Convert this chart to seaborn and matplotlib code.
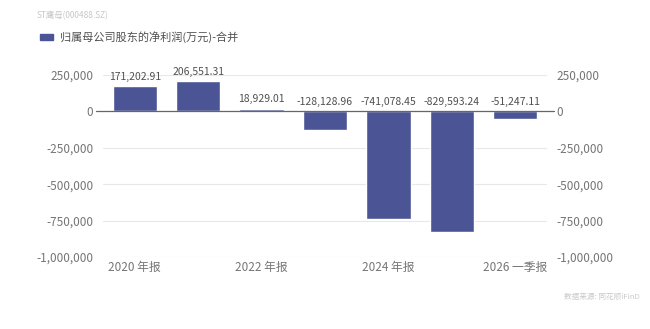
import matplotlib
matplotlib.use("Agg")
import matplotlib.pyplot as plt
import seaborn as sns
import pandas as pd
from matplotlib.ticker import FuncFormatter

periods = ["2020 年报", "2021 年报", "2022 年报", "2023 年报", "2024 年报", "2025 年报", "2026 一季报"]
profit = [171202.91, 206551.31, 18929.01, -128128.96, -741078.45, -829593.24, -51247.11]
yticks = [-1000000, -750000, -500000, -250000, 0, 250000]
shown_xticks = ["2020 年报", "2022 年报", "2024 年报", "2026 一季报"]
series_name = "归属母公司股东的净利润(万元)-合并"
header = "ST鹰母(000488.SZ)"
source = "数据来源: 同花顺iFinD"

sns.set_style("white")
plt.rcParams['font.family'] = ['Noto Sans CJK SC', 'DejaVu Sans']

BAR = "#4b5596"
GRAY = "#757575"

df = pd.DataFrame({"period": periods, "profit": profit})

fig = plt.figure(figsize=(6.5, 3.29), dpi=100)
ax = fig.add_axes([0.1585, 0.219, 0.6830, 0.553])
sns.barplot(data=df, x="period", y="profit", color=BAR, width=0.7, ax=ax,
            saturation=1, zorder=3)
ax.set_ylim(-1000000, 250000)
ax.set_xlim(-0.5, len(periods) - 0.5)
ax.set_yticks(yticks)
fmt = FuncFormatter(lambda v, p: f"{int(v):,}")
ax.yaxis.set_major_formatter(fmt)
ax.set_xlabel("")
ax.set_ylabel("")
for s in ax.spines.values():
    s.set_visible(False)
ax.grid(axis="y", color="#e8e8e8", linewidth=0.8, zorder=0)
ax.tick_params(axis="y", length=0, colors=GRAY, labelsize=8.5, pad=7)
ax.set_xticks([periods.index(t) for t in shown_xticks])
ax.set_xticklabels(shown_xticks)
ax.tick_params(axis="x", length=0, colors=GRAY, labelsize=8.5, pad=3)
ax.axhline(0, color="#666666", linewidth=0.9, xmin=-0.015, xmax=1.015,
           clip_on=False, zorder=4)

ax2 = ax.twinx()
ax2.set_ylim(ax.get_ylim())
ax2.set_yticks(yticks)
ax2.yaxis.set_major_formatter(fmt)
for s in ax2.spines.values():
    s.set_visible(False)
ax2.tick_params(axis="y", length=0, colors=GRAY, labelsize=8.5, pad=7)

for i, v in enumerate(profit):
    ax.annotate(f"{v:,.2f}", (i, max(v, 0)), xytext=(0, 3), textcoords="offset points",
                ha="center", va="bottom", fontsize=7.5, color="#505050", zorder=5)

fig.text(37/650, 1 - 16/329, header, fontsize=6, color="#c8c8c8", va="center", ha="left")
fig.patches.append(plt.Rectangle((40/650, 1 - 40/329), 13/650, 6/329, color=BAR,
                                 transform=fig.transFigure, figure=fig))
fig.text(60/650, 1 - 37/329, series_name, fontsize=8, color="#505050", va="center", ha="left")
fig.text(640/650, 1 - 297/329, source, fontsize=5.5, color="#c8c8c8", va="center", ha="right")

fig.savefig("out.png", dpi=100, facecolor="white")
